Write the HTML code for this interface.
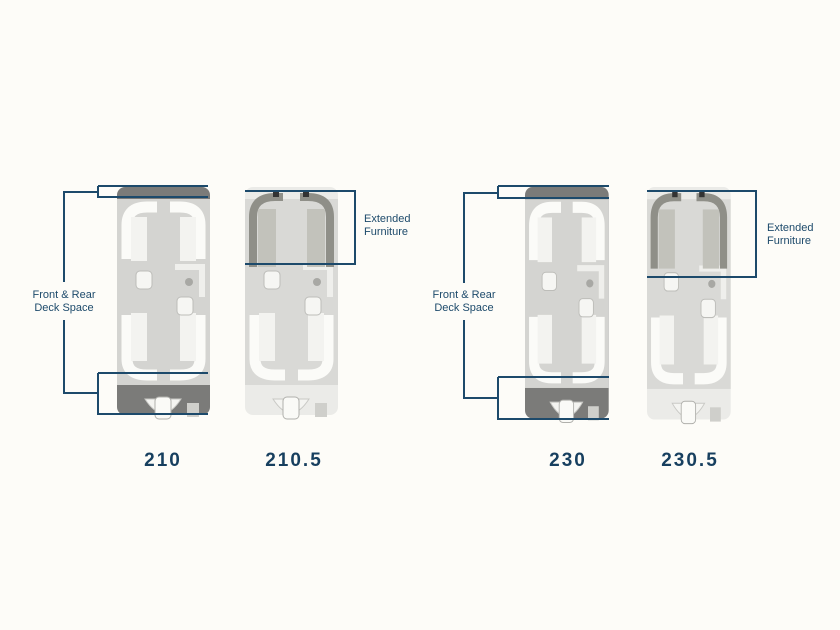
<!DOCTYPE html>
<html><head><meta charset="utf-8"><style>
html,body{margin:0;padding:0;background:#fdfcf8;}
body{width:840px;height:630px;position:relative;overflow:hidden;font-family:"Liberation Sans",sans-serif;}
.lab{position:absolute;color:#1d4a6b;font-size:11px;line-height:13px;text-align:center;}
.num{position:absolute;color:#173f5f;font-size:19px;font-weight:bold;letter-spacing:2px;top:450px;text-align:center;width:80px;}
</style></head><body>
<svg width="840" height="630" style="position:absolute;left:0;top:0">
<defs>
<g id="body">
 <path d="M10 128 V172 Q10 188 30 188 H40" stroke="#fbfbf8" stroke-width="11" fill="none"/>
 <path d="M83 128 V172 Q83 188 63 188 H53" stroke="#fbfbf8" stroke-width="11" fill="none"/>
 <rect x="14" y="126" width="16" height="48" fill="#f3f3f0"/>
 <rect x="63" y="126" width="16" height="48" fill="#f3f3f0"/>
 <rect x="19" y="84" width="16" height="18" rx="4" fill="#f6f6f3" stroke="#bdbdb9"/>
 <rect x="60" y="110" width="16" height="18" rx="4" fill="#f6f6f3" stroke="#bdbdb9"/>
 <path d="M58 80 H85 V110" stroke="#efefec" stroke-width="6" fill="none"/>
 <circle cx="72" cy="95" r="4" fill="#a8a8a4"/>
 <path d="M28 212 Q46 240 64 212 Z" fill="#f4f4f1" stroke="#c9c9c5"/>
 <rect x="38" y="210" width="16" height="22" rx="4" fill="#fafaf7" stroke="#b0b0ac"/>
 <rect x="70" y="216" width="12" height="14" fill="#cfcfcb"/>
</g>
<g id="frontStd">
 <path d="M10 72 V38 Q10 20 30 20 H40" stroke="#fbfbf8" stroke-width="11" fill="none"/>
 <path d="M83 72 V38 Q83 20 63 20 H53" stroke="#fbfbf8" stroke-width="11" fill="none"/>
 <rect x="14" y="30" width="16" height="44" fill="#f3f3f0"/>
 <rect x="63" y="30" width="16" height="44" fill="#f3f3f0"/>
</g>
<g id="frontExt">
 <path d="M8 80 V30 Q8 10 30 10 H38" stroke="#8f8f88" stroke-width="8" fill="none"/>
 <path d="M85 80 V30 Q85 10 63 10 H55" stroke="#8f8f88" stroke-width="8" fill="none"/>
 <rect x="13" y="22" width="18" height="58" fill="#c2c2bb"/>
 <rect x="62" y="22" width="18" height="58" fill="#c2c2bb"/>
 <rect x="28" y="4" width="6" height="6" fill="#333"/><rect x="58" y="4" width="6" height="6" fill="#333"/>
</g>
</defs>
<g transform="translate(117,187)">
 <rect x="0" y="0" width="93" height="228" rx="8" fill="#7b7b79"/>
 <rect x="0" y="12" width="93" height="186" fill="#d4d4d1"/>
 <use href="#body"/><use href="#frontStd"/>
</g>
<g transform="translate(245,187)">
 <rect x="0" y="0" width="93" height="228" rx="8" fill="#ebebe8"/>
 <rect x="0" y="12" width="93" height="186" fill="#d9d9d6"/>
 <use href="#body"/><use href="#frontExt"/>
</g>
<g transform="translate(525,187) scale(0.9,1.015)">
 <rect x="0" y="0" width="93" height="228" rx="8" fill="#7b7b79"/>
 <rect x="0" y="12" width="93" height="186" fill="#d4d4d1"/>
 <use href="#body"/><use href="#frontStd"/>
</g>
<g transform="translate(647,187) scale(0.9,1.02)">
 <rect x="0" y="0" width="93" height="228" rx="8" fill="#ebebe8"/>
 <rect x="0" y="12" width="93" height="186" fill="#d9d9d6"/>
 <use href="#body"/><use href="#frontExt"/>
</g>
<g stroke="#1d4a6b" stroke-width="2" fill="none">
 <path d="M64 282 V192 H98"/><path d="M98 186 H208 M98 186 V197 H208"/>
 <path d="M64 320 V393 H98"/><path d="M98 373 H208 M98 373 V414 H208"/>
 <path d="M245 191 H355 V264 H245"/>
 <path d="M464 283 V193 H498"/><path d="M498 186 H609 M498 186 V198 H609"/>
 <path d="M464 320 V398 H498"/><path d="M498 377 H609 M498 377 V419 H609"/>
 <path d="M647 191 H756 V277 H647"/>
</g>
</svg>
<div class="lab" style="left:22px;top:289px;width:84px;">Front &amp; Rear<br>Deck Space</div>
<div class="lab" style="left:422px;top:289px;width:84px;">Front &amp; Rear<br>Deck Space</div>
<div class="lab" style="left:364px;top:213px;text-align:left;">Extended<br>Furniture</div>
<div class="lab" style="left:767px;top:222px;text-align:left;">Extended<br>Furniture</div>
<div class="num" style="left:123px;">210</div>
<div class="num" style="left:254px;">210.5</div>
<div class="num" style="left:528px;">230</div>
<div class="num" style="left:650px;">230.5</div>
</body></html>
